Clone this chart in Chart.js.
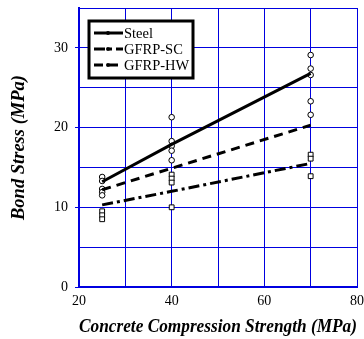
<!DOCTYPE html>
<html>
<head>
<meta charset="utf-8">
<script src="https://cdn.jsdelivr.net/npm/chart.js@4"></script>
<style>
  html, body { margin: 0; padding: 0; background: #fff; }
  #wrap { width: 364px; height: 339px; }
</style>
</head>
<body>
<div id="wrap"><canvas id="bondChart"></canvas></div>
<script>
// concrete strengths where the fitted lines are drawn
const strengths = [25, 40, 70];
const steelFit = [13.2, 17.9, 26.8];
const scFit = [10.3, 12.0, 15.5];
const hwFit = [12.2, 14.9, 20.3];

// test results (circles)
const steelX = [25, 25, 40, 40, 40, 40, 70, 70, 70, 70];
const steelY = [13.8, 13.3, 21.3, 18.3, 17.7, 17.1, 29.1, 27.4, 26.6, 23.3];
const hwX = [25, 25, 25, 40, 70];
const hwY = [12.3, 11.9, 11.5, 15.9, 21.6];
// test results (squares)
const gfrpX = [25, 25, 25, 40, 40, 40, 40, 70, 70, 70];
const gfrpY = [9.5, 9.0, 8.5, 14.1, 13.6, 13.1, 10.0, 16.6, 16.1, 13.9];

const xTickLabels = [20, 40, 60, 80];
const yTickLabels = [0, 10, 20, 30];
const legendNames = ['Steel', 'GFRP-SC', 'GFRP-HW'];

const toPoints = (xs, ys) => xs.map((x, i) => ({ x: x, y: ys[i] }));

const blue = '#0000e0';
const serif = '"Liberation Serif", "Times New Roman", serif';

// legend box drawn inside the plot
const boxLegend = {
    id: 'boxLegend',
    afterDraw(chart) {
        const ctx = chart.ctx;
        ctx.save();
        ctx.fillStyle = '#fff';
        ctx.fillRect(89, 21, 104, 57);
        ctx.strokeStyle = '#000';
        ctx.lineWidth = 3;
        ctx.strokeRect(89, 21, 104, 57);
        ctx.font = '14.5px ' + serif;
        ctx.textBaseline = 'middle';
        legendNames.forEach((name, i) => {
            const ds = chart.data.datasets[i];
            const y = 33 + i * 16;
            ctx.strokeStyle = '#000';
            ctx.lineWidth = 3;
            ctx.setLineDash(ds.borderDash || []);
            ctx.beginPath();
            ctx.moveTo(94, y);
            ctx.lineTo(123, y);
            ctx.stroke();
            ctx.setLineDash([]);
            ctx.fillStyle = '#000';
            ctx.beginPath();
            ctx.arc(108, y, 2, 0, Math.PI * 2);
            ctx.fill();
            ctx.fillText(name, 124, y + 1);
        });
        ctx.restore();
    }
};

const ctx = document.getElementById('bondChart').getContext('2d');
new Chart(ctx, {
    type: 'scatter',
    data: {
        datasets: [
            {
                label: 'Steel',
                data: toPoints(strengths, steelFit),
                showLine: true,
                borderColor: '#000',
                borderWidth: 3,
                pointRadius: 0
            },
            {
                label: 'GFRP-SC',
                data: toPoints(strengths, scFit),
                showLine: true,
                borderColor: '#000',
                borderWidth: 3,
                borderDash: [11, 4, 3, 4],
                pointRadius: 0
            },
            {
                label: 'GFRP-HW',
                data: toPoints(strengths, hwFit),
                showLine: true,
                borderColor: '#000',
                borderWidth: 3,
                borderDash: [9, 6],
                pointRadius: 0
            },
            {
                label: 'Steel tests',
                data: toPoints(steelX, steelY),
                pointStyle: 'circle',
                pointRadius: 2.8,
                borderColor: '#000',
                borderWidth: 1,
                backgroundColor: '#fff'
            },
            {
                label: 'HW tests',
                data: toPoints(hwX, hwY),
                pointStyle: 'circle',
                pointRadius: 2.8,
                borderColor: '#000',
                borderWidth: 1,
                backgroundColor: '#fff'
            },
            {
                label: 'GFRP tests',
                data: toPoints(gfrpX, gfrpY),
                pointStyle: 'rect',
                pointRadius: 3.4,
                borderColor: '#000',
                borderWidth: 1,
                backgroundColor: '#fff'
            }
        ]
    },
    options: {
        responsive: true,
        maintainAspectRatio: false,
        animation: false,
        layout: { padding: { top: 8, right: 7, left: 0, bottom: 0 } },
        plugins: {
            legend: { display: false },
            tooltip: { enabled: false }
        },
        scales: {
            x: {
                min: 20,
                max: 80,
                afterFit(scale) {
                    scale.height = 52;
                    scale.paddingLeft = 0;
                    scale.paddingRight = 0;
                },
                ticks: {
                    stepSize: 10,
                    padding: 6,
                    maxRotation: 0,
                    autoSkip: false,
                    color: '#000',
                    font: { family: serif, size: 14 },
                    callback: v => xTickLabels.includes(v) ? v : ''
                },
                grid: { color: blue, lineWidth: 1, drawTicks: false },
                border: { color: blue, width: 2 },
                title: {
                    display: true,
                    text: 'Concrete Compression Strength (MPa)',
                    color: '#000',
                    font: { family: serif, size: 18.5, style: 'italic', weight: 'bold' },
                    padding: { top: 0, bottom: 1 }
                }
            },
            y: {
                min: 0,
                max: 35,
                afterFit(scale) {
                    scale.width = 79;
                    scale.paddingTop = 0;
                    scale.paddingBottom = 0;
                },
                ticks: {
                    stepSize: 5,
                    padding: 7,
                    autoSkip: false,
                    color: '#000',
                    font: { family: serif, size: 14 },
                    callback: v => yTickLabels.includes(v) ? v : ''
                },
                grid: {
                    color: blue,
                    lineWidth: 1,
                    tickLength: 4,
                    tickColor: c => (c.tick && yTickLabels.includes(c.tick.value)) ? blue : 'rgba(0,0,0,0)'
                },
                border: { color: blue, width: 2 },
                title: {
                    display: true,
                    text: 'Bond Stress (MPa)',
                    color: '#000',
                    font: { family: serif, size: 18.5, style: 'italic', weight: 'bold' },
                    padding: { top: 8, bottom: 0 }
                }
            }
        }
    },
    plugins: [boxLegend]
});
</script>
</body>
</html>
